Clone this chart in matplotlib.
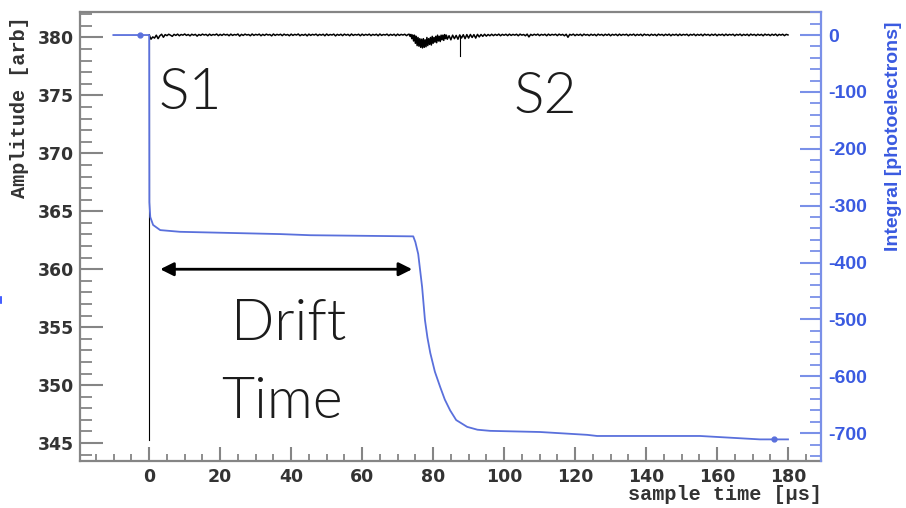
import numpy as np
import matplotlib
matplotlib.use("Agg")
import matplotlib.pyplot as plt
from matplotlib.ticker import MultipleLocator, FixedLocator
from matplotlib.lines import Line2D

plt.rcParams['axes.unicode_minus'] = False

# ---------------- data ----------------
# Amplitude trace (left axis), sampled at 0.5 us, 0.25 us in the S2 region
pre_start, pre_step = 0.0, 0.5
pre_amp = [380.22, 379.85, 380.05, 379.95, 380.20, 379.90, 380.15, 380.28, 380.02, 380.25,
           380.16, 380.28, 380.20, 380.10, 380.27, 380.18, 380.29, 380.15, 380.26, 380.20,
           380.30, 380.18, 380.26, 380.14, 380.28, 380.20, 380.27, 380.12, 380.26, 380.18,
           380.29, 380.21, 380.27, 380.15, 380.29, 380.18, 380.26, 380.21, 380.30, 380.16,
           380.27, 380.18, 380.29, 380.21, 380.27, 380.15, 380.29, 380.18, 380.26, 380.21,
           380.30, 380.12, 380.27, 380.18, 380.29, 380.21, 380.26, 380.15, 380.30, 380.18,
           380.27, 380.21, 380.29, 380.15, 380.27, 380.18, 380.29, 380.21, 380.26, 380.14,
           380.30, 380.18, 380.27, 380.21, 380.28, 380.16, 380.29, 380.20, 380.26, 380.15,
           380.29, 380.18, 380.27, 380.21, 380.30, 380.15, 380.26, 380.19, 380.28, 380.14,
           380.29, 380.18, 380.27, 380.21, 380.29, 380.16, 380.27, 380.20, 380.28, 380.15,
           380.30, 380.18, 380.26, 380.21, 380.29, 380.14, 380.27, 380.19, 380.28, 380.16,
           380.29, 380.20, 380.27, 380.15, 380.30, 380.18, 380.26, 380.21, 380.28, 380.15,
           380.29, 380.18, 380.27, 380.20, 380.29, 380.16, 380.27, 380.20, 380.28, 380.15,
           380.30, 380.18, 380.26, 380.21, 380.29, 380.16, 380.27, 380.19, 380.28, 380.15,
           380.29, 380.18, 380.27, 380.21, 380.28, 380.16, 380.27]
s2_start, s2_step = 73.25, 0.25
s2_amp = [380.28, 380.10, 380.26, 379.90, 380.22, 379.70, 380.20, 379.50, 380.10, 379.30,
          380.00, 379.25, 379.90, 379.15, 379.85, 379.10, 379.90, 379.15, 379.80, 379.20,
          380.00, 379.30, 379.90, 379.40, 380.00, 379.35, 380.10, 379.50, 380.00, 379.60,
          380.10, 379.55, 380.20, 379.70, 380.10, 379.65, 380.20, 379.80, 380.20, 379.75,
          380.25, 379.90, 380.20, 379.85]
post_start, post_step = 84.5, 0.5
post_amp = [380.15, 379.80, 380.20, 379.90, 380.18, 379.85, 380.22, 379.95, 380.24, 379.90,
            380.25, 379.95, 380.26, 380.00, 380.25, 379.95, 380.27, 380.05, 380.26, 380.10,
            380.28, 380.12, 380.26, 380.15, 380.28, 380.16, 380.27, 380.18, 380.29, 380.15,
            380.27, 380.19, 380.28, 380.16, 380.29, 380.18, 380.27, 380.20, 380.28, 380.15,
            380.29, 380.20, 380.26, 380.15, 380.29, 380.05, 380.27, 380.18, 380.28, 380.20,
            380.29, 380.16, 380.27, 380.20, 380.28, 380.15, 380.29, 380.18, 380.27, 380.21,
            380.28, 380.16, 380.29, 380.20, 380.27, 380.15, 380.28, 380.02, 380.27, 380.20,
            380.29, 380.16, 380.27, 380.19, 380.28, 380.15, 380.29, 380.20, 380.26, 380.16,
            380.28, 380.19, 380.27, 380.15, 380.29, 380.20, 380.27, 380.16, 380.28, 380.19,
            380.29, 380.15, 380.27, 380.20, 380.28, 380.16, 380.29, 380.18, 380.27, 380.21,
            380.28, 380.15, 380.27, 380.20, 380.29, 380.16, 380.27, 380.19, 380.28, 380.15,
            380.29, 380.20, 380.26, 380.16, 380.28, 380.19, 380.27, 380.15, 380.29, 380.20,
            380.27, 380.16, 380.28, 380.19, 380.29, 380.15, 380.27, 380.20, 380.28, 380.16,
            380.29, 380.18, 380.27, 380.21, 380.28, 380.15, 380.27, 380.20, 380.29, 380.16,
            380.27, 380.19, 380.28, 380.15, 380.29, 380.20, 380.27, 380.16, 380.28, 380.19,
            380.29, 380.15, 380.27, 380.20, 380.28, 380.16, 380.29, 380.18, 380.27, 380.21,
            380.28, 380.15, 380.27, 380.20, 380.29, 380.16, 380.27, 380.19, 380.28, 380.15,
            380.29, 380.20, 380.27, 380.16, 380.28, 380.19, 380.27, 380.15, 380.29, 380.20,
            380.27, 380.16, 380.28, 380.19, 380.29, 380.15, 380.27, 380.20, 380.28, 380.16,
            380.27, 380.22]
s1_spike_time = [0.0, 0.0]
s1_spike_amp = [380.20, 345.30]
s2_spike_time = [87.6, 87.6]
s2_spike_amp = [380.10, 378.40]

# Integral trace (right axis, photoelectrons)
int_time = [-10.1, 0.0, 0.05, 0.3, 1.1, 3.1, 8.7, 22.8, 36.9, 45.4, 74.4, 75.0, 75.8,
            76.9, 77.7, 78.4, 79.2, 80.5, 82.0, 83.3, 84.8, 86.5, 89.6, 92.5, 96.1,
            110.1, 123.4, 126.2, 155.2, 172.1, 180.0]
int_val = [0, 0, -294, -320, -334, -343, -346, -348, -350, -352, -354, -364, -385,
           -443, -501, -532, -559, -592, -619, -641, -660, -677, -689, -694, -696,
           -698, -703, -705, -705, -711, -711]
int_marker_time = [-2.5, 176.0]
int_marker_val = [0, -711]

arrow_from, arrow_to, arrow_level = 3.1, 74.1, 360.0

left_ticks = [345, 350, 355, 360, 365, 370, 375, 380]
right_ticks = [0, -100, -200, -300, -400, -500, -600, -700]
x_ticks = [0, 20, 40, 60, 80, 100, 120, 140, 160, 180]

# ---------------- plot ----------------
W, H = 906, 508
fig = plt.figure(figsize=(W / 100, H / 100), dpi=100)
ax = fig.add_axes([80 / W, 1 - 461 / H, (821 - 80) / W, (461 - 12) / H])

gray = '#858585'
lab = '#333333'
blue_line = '#5a70dc'
blue_txt = '#3a5ae0'

pre_t = pre_start + pre_step * np.arange(len(pre_amp))
s2_t = s2_start + s2_step * np.arange(len(s2_amp))
post_t = post_start + post_step * np.arange(len(post_amp))
amp_t = np.concatenate([pre_t, s2_t, post_t])
amp_v = np.concatenate([pre_amp, s2_amp, post_amp])
keep = amp_t <= 180.0

ax.plot(amp_t[keep], amp_v[keep], color='black', lw=1.1, zorder=3)
ax.plot(s1_spike_time, s1_spike_amp, color='black', lw=0.8, zorder=3)
ax.plot(s2_spike_time, s2_spike_amp, color='black', lw=0.8, zorder=3)

ax.set_xlim(-19.5, 189.3)
ax.set_ylim(343.45, 382.2)
ax.xaxis.set_major_locator(FixedLocator(x_ticks))
ax.xaxis.set_minor_locator(MultipleLocator(5))
ax.yaxis.set_major_locator(FixedLocator(left_ticks))
ax.yaxis.set_minor_locator(MultipleLocator(1))

for s in ['left', 'bottom', 'top']:
    ax.spines[s].set_color(gray)
    ax.spines[s].set_linewidth(1.6)
ax.spines['right'].set_visible(False)

ax.tick_params(axis='y', which='major', direction='in', length=16.5, width=1.5,
               color=gray, labelsize=12.4, labelcolor=lab, pad=4.5)
ax.tick_params(axis='y', which='minor', direction='in', length=8.5, width=1.3, color=gray)
ax.tick_params(axis='x', which='major', direction='in', length=10, width=1.5,
               color=gray, labelsize=12.5, labelcolor=lab, pad=5)
ax.tick_params(axis='x', which='minor', direction='in', length=5, width=1.3, color=gray)
for t in ax.get_xticklabels() + ax.get_yticklabels():
    t.set_fontfamily('DejaVu Sans')
    t.set_fontweight('bold')

# annotations
txt_kw = dict(fontfamily='Lato', fontweight=300, fontsize=41, color='#1c1c1c')
ax.text(2.6, 373.8, 'S1', ha='left', va='baseline', **txt_kw)
ax.text(102.7, 373.5, 'S2', ha='left', va='baseline', **txt_kw)
ax.text(23.0, 353.85, 'Drift', ha='left', va='baseline', **txt_kw)
ax.text(20.4, 347.2, 'Time', ha='left', va='baseline', **txt_kw)
ax.annotate('', xy=(arrow_to, arrow_level), xytext=(arrow_from, arrow_level),
            arrowprops=dict(arrowstyle='<|-|>', color='black', lw=2.0,
                            mutation_scale=20, shrinkA=0, shrinkB=0), zorder=4)

# right axis
ax2 = ax.twinx()
ax2.set_position(ax.get_position())
ax2.plot(int_time, int_val, color=blue_line, lw=1.3, zorder=4)
ax2.plot(int_marker_time, int_marker_val, 'o', color=blue_line, ms=3.5, zorder=5)
ax2.set_ylim(-749, 40.5)
ax2.yaxis.set_major_locator(FixedLocator(right_ticks))
ax2.yaxis.set_minor_locator(MultipleLocator(20))
for s in ['left', 'bottom', 'top']:
    ax2.spines[s].set_visible(False)
ax2.spines['right'].set_color('#7a90e8')
ax2.spines['right'].set_linewidth(1.6)
ax2.tick_params(axis='y', which='major', direction='in', length=15, width=1.5,
                color='#7a90e8', labelsize=14, labelcolor=blue_txt, pad=5)
ax2.tick_params(axis='y', which='minor', direction='in', length=8, width=1.3, color='#7a90e8')
for t in ax2.get_yticklabels():
    t.set_fontfamily('Liberation Sans')
    t.set_fontweight('bold')

# axis titles
fig.text(20 / W, 1 - 107 / H, 'Amplitude [arb]', rotation=90, ha='center', va='center',
         fontfamily='Liberation Mono', fontweight='bold', fontsize=14.5, color=lab)
fig.text(822 / W, 1 - 495 / H, 'sample time [\u00b5s]', ha='right', va='center',
         fontfamily='Liberation Mono', fontweight='bold', fontsize=14.5, color=lab)
fig.text(893 / W, 1 - 136 / H, 'Integral [photoelectrons]', rotation=90, ha='center',
         va='center', fontfamily='Liberation Sans', fontweight='bold', fontsize=14,
         color=blue_txt)

fig.add_artist(Line2D([1 / W, 1 / W], [1 - 303 / H, 1 - 297 / H], color='#2040ff', lw=1.2))

fig.savefig('out.png', dpi=100, facecolor='white')
